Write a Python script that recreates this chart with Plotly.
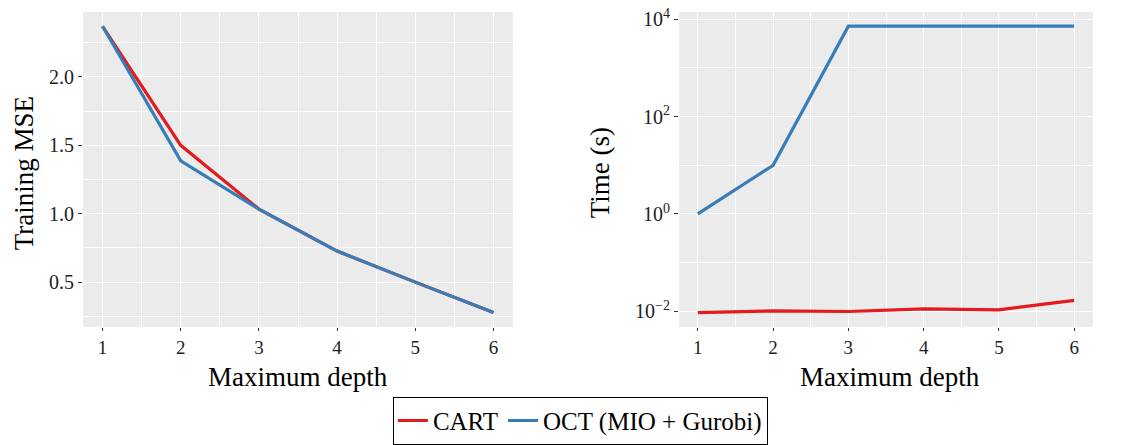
import plotly.graph_objects as go

# Maximum tree depth
depth = [1, 2, 3, 4, 5, 6]

# Training MSE per method
mse_cart = [2.37, 1.50, 1.034, 0.727, 0.50, 0.278]
mse_oct = [2.37, 1.387, 1.034, 0.727, 0.50, 0.278]

# Training time in seconds per method
time_cart = [0.0094, 0.0102, 0.0099, 0.0112, 0.0107, 0.0167]
time_oct = [1.0, 10.0, 7200, 7200, 7200, 7200]

# Axis tick labels
mse_ticks = [0.5, 1.0, 1.5, 2.0]
mse_ticktext = ["0.5", "1.0", "1.5", "2.0"]
time_ticks = [0.01, 1, 100, 10000]
time_ticktext = ["10<sup>−2</sup>", "10<sup>0</sup>", "10<sup>2</sup>", "10<sup>4</sup>"]

RED = "#E41A1C"
BLUE = "#377EB8"
PANEL = "#EBEBEB"
FONT = "Liberation Serif"

fig = go.Figure()

fig.add_trace(go.Scatter(x=depth, y=mse_cart, mode="lines", name="CART",
                         line=dict(color=RED, width=3.2), xaxis="x", yaxis="y",
                         legendgroup="cart"))
fig.add_trace(go.Scatter(x=depth, y=mse_oct, mode="lines", name="OCT (MIO + Gurobi)",
                         line=dict(color=BLUE, width=3.2), xaxis="x", yaxis="y",
                         legendgroup="oct"))
fig.add_trace(go.Scatter(x=depth, y=time_cart, mode="lines", name="CART",
                         line=dict(color=RED, width=3.2), xaxis="x2", yaxis="y2",
                         legendgroup="cart", showlegend=False))
fig.add_trace(go.Scatter(x=depth, y=time_oct, mode="lines", name="OCT (MIO + Gurobi)",
                         line=dict(color=BLUE, width=3.2), xaxis="x2", yaxis="y2",
                         legendgroup="oct", showlegend=False))

W, H = 1138, 445
ydom = [1 - 326 / H, 1 - 6 / H]

tick_font = dict(family=FONT, size=19, color="#222222")

common_x = dict(
    range=[0.75, 6.25], tickvals=depth, ticktext=[str(d) for d in depth],
    showgrid=True, gridcolor="white", gridwidth=1.2, zeroline=False,
    ticks="outside", ticklen=3, tickcolor="#333333", tickwidth=1,
    tickfont=tick_font,
    minor=dict(tickvals=[1.5, 2.5, 3.5, 4.5, 5.5], showgrid=True,
               gridcolor="white", gridwidth=0.6, ticklen=0),
    showline=False, fixedrange=True,
)

fig.update_layout(
    width=W, height=H,
    margin=dict(l=0, r=0, t=0, b=0),
    paper_bgcolor="white",
    plot_bgcolor=PANEL,
    font=dict(family=FONT, color="#000000"),
    xaxis=dict(domain=[83 / W, 513 / W], anchor="y", **common_x),
    xaxis2=dict(domain=[679 / W, 1093 / W], anchor="y2", **common_x),
    yaxis=dict(
        domain=ydom, anchor="x", range=[0.173, 2.475],
        tickvals=mse_ticks, ticktext=mse_ticktext,
        showgrid=True, gridcolor="white", gridwidth=1.2, zeroline=False,
        ticks="outside", ticklen=4, tickcolor="#333333", tickwidth=1,
        tickfont=dict(family=FONT, size=20, color="#222222"),
        minor=dict(tickvals=[0.25, 0.75, 1.25, 1.75, 2.25], showgrid=True,
                   gridcolor="white", gridwidth=0.6, ticklen=0),
        fixedrange=True,
    ),
    yaxis2=dict(
        domain=ydom, anchor="x2", type="log", range=[-2.32, 4.15],
        tickvals=time_ticks, ticktext=time_ticktext,
        showgrid=True, gridcolor="white", gridwidth=1.2, zeroline=False,
        ticks="outside", ticklen=4, tickcolor="#333333", tickwidth=1,
        tickfont=dict(family=FONT, size=20, color="#222222"),
        minor=dict(tickvals=[0.1, 10, 1000], showgrid=True,
                   gridcolor="white", gridwidth=0.6, ticklen=0),
        fixedrange=True,
    ),
    legend=dict(
        orientation="h", x=0.51, xanchor="center", y=1 - 397 / H, yanchor="top",
        bordercolor="#000000", borderwidth=1, bgcolor="white",
        font=dict(family=FONT, size=25, color="#000000"),
        itemwidth=30, tracegroupgap=0,
    ),
    showlegend=True,
)

# Axis titles
title_font = dict(family=FONT, size=27, color="#000000")
fig.add_annotation(text="Training MSE", xref="paper", yref="paper",
                   x=24 / W, y=1 - 170 / H, textangle=-90, showarrow=False,
                   font=title_font, xanchor="center", yanchor="middle")
fig.add_annotation(text="Time (s)", xref="paper", yref="paper",
                   x=600 / W, y=1 - 170 / H, textangle=-90, showarrow=False,
                   font=title_font, xanchor="center", yanchor="middle")
fig.add_annotation(text="Maximum depth", xref="paper", yref="paper",
                   x=298 / W, y=1 - 377 / H, showarrow=False,
                   font=title_font, xanchor="center", yanchor="middle")
fig.add_annotation(text="Maximum depth", xref="paper", yref="paper",
                   x=890 / W, y=1 - 377 / H, showarrow=False,
                   font=title_font, xanchor="center", yanchor="middle")

fig.write_html("out.html")
